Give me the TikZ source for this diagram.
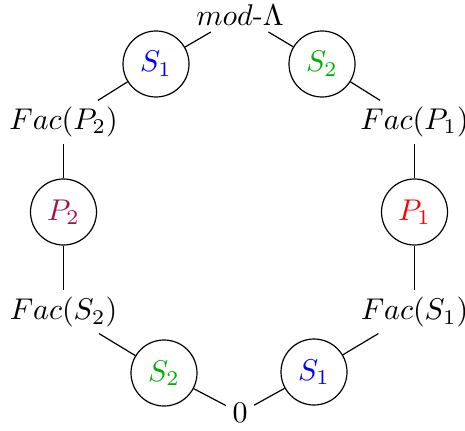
\documentclass[tikz,border=0pt]{standalone}
\definecolor{mypurple}{RGB}{160,20,75}
\begin{document}
\begin{tikzpicture}[x=0.3333pt,y=-0.3333pt,
  obj/.style={inner sep=2pt},
  mor/.style={draw,circle,minimum size=22pt,inner sep=0pt},
  conn/.style={line width=0.4pt}]
\useasboundingbox (0,0) rectangle (465,430);
\node[obj] (top) at (240,15) {$mod$-$\Lambda$};
\node[mor] (s1t) at (156,64) {$\color{blue}S_1$};
\node[mor] (s2t) at (322,64) {$\color{green!70!black}S_2$};
\node[obj] (fp2) at (63.5,122) {$Fac(P_2)$};
\node[obj] (fp1) at (414.5,122) {$Fac(P_1)$};
\node[mor] (p2) at (63.5,212) {$\color{mypurple}P_2$};
\node[mor] (p1) at (414.5,212) {$\color{red}P_1$};
\node[obj] (fs2) at (63.5,312) {$Fac(S_2)$};
\node[obj] (fs1) at (414.5,312) {$Fac(S_1)$};
\node[mor] (s2b) at (164,373) {$\color{green!70!black}S_2$};
\node[mor] (s1b) at (314,372) {$\color{blue}S_1$};
\node[obj] (zero) at (240,413) {$0$};
\draw[conn] (top) -- (s1t);
\draw[conn] (s1t) -- (fp2);
\draw[conn] (fp2) -- (p2);
\draw[conn] (p2) -- (fs2);
\draw[conn] (fs2) -- (s2b);
\draw[conn] (s2b) -- (zero);
\draw[conn] (top) -- (s2t);
\draw[conn] (s2t) -- (fp1);
\draw[conn] (fp1) -- (p1);
\draw[conn] (p1) -- (fs1);
\draw[conn] (fs1) -- (s1b);
\draw[conn] (s1b) -- (zero);
\end{tikzpicture}
\end{document}
